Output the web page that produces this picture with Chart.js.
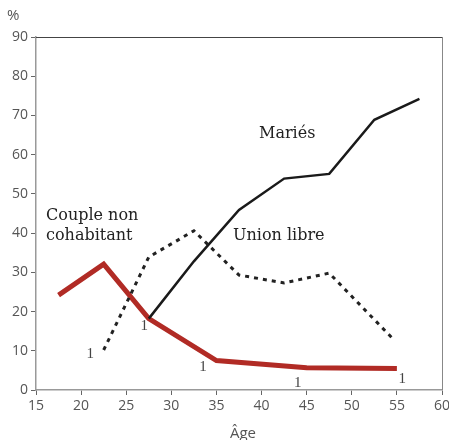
<!DOCTYPE html>
<html>
<head>
<meta charset="utf-8">
<script src="https://cdn.jsdelivr.net/npm/chart.js@4"></script>
<style>
  html, body { margin: 0; padding: 0; background: #fff; }
  #wrap { width: 449px; height: 440px; }
</style>
</head>
<body>
<div id="wrap"><canvas id="chart" width="449" height="440"></canvas></div>
<script>
// values (age, %)
const xTicks = [15, 20, 25, 30, 35, 40, 45, 50, 55, 60];
const yTicks = [0, 10, 20, 30, 40, 50, 60, 70, 80, 90];

const nonCohabAge = [17.5, 22.5, 27.5, 35, 45, 55];
const nonCohabPct = [24.2, 32.1, 18.2, 7.5, 5.7, 5.5];

const unionAge = [22.5, 27.5, 32.5, 37.5, 42.5, 47.5, 54.5];
const unionPct = [10.2, 33.9, 40.6, 29.3, 27.3, 29.8, 13.2];

const mariesAge = [27.5, 32.5, 37.5, 42.5, 47.5, 52.5, 57.5];
const mariesPct = [18.2, 32.8, 45.9, 53.9, 55.1, 68.9, 74.2];

// footnote "1" markers
const noteAge = [21, 27, 33.5, 44, 55.6];
const notePct = [9.5, 16.5, 6, 2, 3];

const RED = "#b12b25";
const pts = (xs, ys) => xs.map((x, i) => ({ x: x, y: ys[i] }));

const labelsPlugin = {
  id: "labels",
  afterDraw(chart) {
    const ctx = chart.ctx;
    const xs = chart.scales.x, ys = chart.scales.y;
    const a = chart.chartArea;
    ctx.save();
    // frame: top and right
    ctx.strokeStyle = "#444";
    ctx.lineWidth = 1;
    ctx.beginPath();
    ctx.moveTo(a.left, a.top + 0.5);
    ctx.lineTo(a.right, a.top + 0.5);
    ctx.stroke();
    ctx.strokeStyle = "#888";
    ctx.beginPath();
    ctx.moveTo(a.right + 0.5, a.top);
    ctx.lineTo(a.right + 0.5, a.bottom);
    ctx.stroke();

    ctx.fillStyle = "#222";
    ctx.font = "16px 'DejaVu Serif'";
    ctx.textBaseline = "alphabetic";
    ctx.textAlign = "left";
    ctx.fillText("Mariés", 259, 138);
    ctx.fillText("Union libre", 233, 240);
    ctx.fillText("Couple non", 46, 220);
    ctx.fillText("cohabitant", 46, 240);

    ctx.fillStyle = "#444";
    ctx.font = "15px 'Liberation Serif'";
    ctx.textAlign = "center";
    noteAge.forEach((v, i) => {
      ctx.fillText("1", xs.getPixelForValue(v), ys.getPixelForValue(notePct[i]) + 5);
    });

    ctx.fillStyle = "#555";
    ctx.font = "15px 'Open Sans'";
    ctx.textAlign = "left";
    ctx.fillText("%", 7, 20);
    ctx.textAlign = "center";
    ctx.fillText("Âge", (a.left + a.right) / 2 + 4, 438);
    ctx.restore();
  }
};

new Chart(document.getElementById("chart"), {
  type: "line",
  data: {
    datasets: [
      {
        label: "Union libre",
        data: pts(unionAge, unionPct),
        borderColor: "#222",
        borderWidth: 3,
        borderDash: [4, 5],
        pointRadius: 0
      },
      {
        label: "Mariés",
        data: pts(mariesAge, mariesPct),
        borderColor: "#1a1a1a",
        borderWidth: 2.5,
        pointRadius: 0
      },
      {
        label: "Couple non cohabitant",
        data: pts(nonCohabAge, nonCohabPct),
        borderColor: RED,
        borderWidth: 5,
        pointRadius: 0
      }
    ]
  },
  options: {
    responsive: false,
    animation: false,
    layout: { padding: { top: 37, right: 0, left: 0, bottom: 0 } },
    plugins: { legend: { display: false }, tooltip: { enabled: false } },
    scales: {
      x: {
        type: "linear",
        min: 15,
        max: 60,
        afterBuildTicks: s => { s.ticks = xTicks.map(v => ({ value: v })); },
        afterFit: s => { s.height = 50; s.paddingRight = 7; },
        border: { color: "#999", width: 1.5 },
        grid: { drawOnChartArea: false, tickLength: 5, color: "#666" },
        ticks: { color: "#555", font: { family: "Open Sans", size: 14 }, padding: 3, maxRotation: 0 }
      },
      y: {
        min: 0,
        max: 90,
        afterBuildTicks: s => { s.ticks = yTicks.map(v => ({ value: v })); },
        afterFit: s => { s.width = 36; },
        border: { color: "#999", width: 1.5 },
        grid: { drawOnChartArea: false, tickLength: 5, color: "#666" },
        ticks: { color: "#555", font: { family: "Open Sans", size: 14 }, padding: 3 }
      }
    }
  },
  plugins: [labelsPlugin]
});
</script>
</body>
</html>
